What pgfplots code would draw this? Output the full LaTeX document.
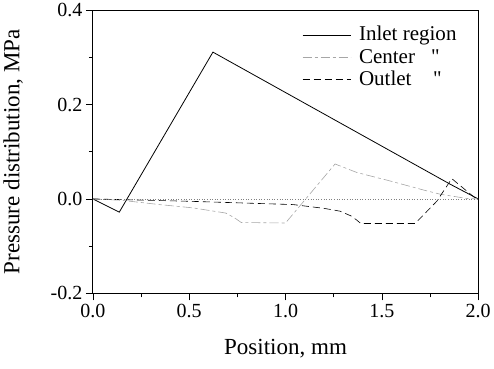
\documentclass[border=0pt]{standalone}
\usepackage{pgfplots}
\pgfplotsset{compat=1.18}
\usepackage{fontspec}
\setmainfont{Liberation Serif}
\newfontfamily\qf{Liberation Serif}[Ligatures=TeXOff]
\begin{document}
\begin{tikzpicture}
\begin{axis}[
  scale only axis,
  width=385bp, height=283bp,
  xmin=0, xmax=2, ymin=-0.2, ymax=0.4,
  xtick={0,0.5,1,1.5,2},
  ytick={-0.2,0,0.2,0.4},
  minor xtick={0.25,0.75,1.25,1.75},
  minor ytick={-0.1,0.1,0.3},
  xticklabels={0.0,0.5,1.0,1.5,2.0},
  yticklabels={-0.2,0.0,0.2,0.4},
  tick align=outside,
  major tick length=7bp,
  minor tick length=4bp,
  xtick pos=bottom, ytick pos=left,
  tick style={black, line width=0.6pt},
  axis line style={line width=0.9pt},
  /pgf/number format/assume math mode=true,
  tick label style={font=\fontsize{20bp}{24bp}\selectfont},
  xlabel={Position, mm},
  ylabel={Pressure distribution, MPa},
  label style={font=\fontsize{23bp}{27bp}\selectfont},
  xlabel style={inner ysep=11bp, yshift=-7bp},
  ylabel style={yshift=21bp},
  legend style={draw=none, fill=none, at={(rel axis cs:0.535,0.957)}, anchor=north west,
    font=\fontsize{21bp}{24bp}\selectfont, row sep=0bp, column sep=6bp,
    nodes={text height=15bp, text depth=4bp, inner ysep=1.5bp}},
  legend cell align=left,
  legend image code/.code={\draw[#1] (0bp,0bp) -- (48bp,0bp);},
]
\addplot[black, line width=0.8pt] coordinates {(0,0) (0.137,-0.028) (0.623,0.311) (1.86,0.03) (2.0,0)};
\addlegendentry{Inlet region}
\addplot[gray!70, line width=0.6pt, dash pattern=on 9bp off 3bp on 3bp off 3bp] coordinates {
(0,0) (0.15,-0.003) (0.346,-0.012) (0.52,-0.019) (0.69,-0.03) (0.735,-0.04) (0.77,-0.05) (1.0,-0.051)
(1.257,0.074) (1.37,0.056) (1.543,0.038) (1.715,0.019) (1.803,0.01) (1.94,0.001) (2.0,0)};
\addlegendentry{\makebox[72bp][l]{Center}{\qf\char34}}
\addplot[black, line width=0.6pt, dash pattern=on 7bp off 4bp] coordinates {
(0,0) (0.5,-0.005) (1.04,-0.012) (1.2,-0.02) (1.283,-0.026) (1.34,-0.036) (1.37,-0.045) (1.39,-0.052)
(1.673,-0.052) (1.785,-0.005) (1.863,0.043) (1.99,0)};
\addlegendentry{\makebox[74bp][l]{Outlet}{\qf\char34}}
\addplot[gray, line width=0.6pt, dotted, forget plot] coordinates {(0,0) (2,0)};
\end{axis}
\end{tikzpicture}
\end{document}
